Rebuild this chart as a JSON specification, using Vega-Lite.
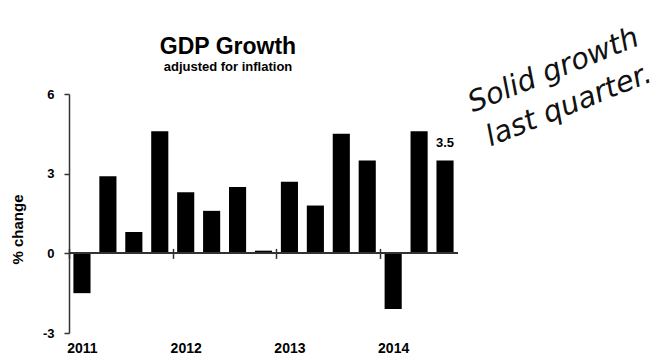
{
  "$schema": "https://vega.github.io/schema/vega-lite/v6.json",
  "width": 389,
  "height": 239,
  "autosize": {"type": "none"},
  "padding": {"left": 69, "top": 94, "right": 203, "bottom": 29},
  "background": "white",
  "config": {"view": {"stroke": null}, "font": "Liberation Sans"},
  "title": {
    "text": "GDP Growth",
    "subtitle": "adjusted for inflation",
    "frame": "group",
    "anchor": "middle",
    "dx": -35.5,
    "offset": -51,
    "fontSize": 23,
    "fontWeight": "bold",
    "color": "#000",
    "subtitleFontSize": 13,
    "subtitleFontWeight": "bold",
    "subtitleColor": "#000",
    "subtitlePadding": 2
  },
  "datasets": {
    "gdp": [
      {"q": "2011 Q1", "pct": -1.5},
      {"q": "2011 Q2", "pct": 2.9},
      {"q": "2011 Q3", "pct": 0.8},
      {"q": "2011 Q4", "pct": 4.6},
      {"q": "2012 Q1", "pct": 2.3},
      {"q": "2012 Q2", "pct": 1.6},
      {"q": "2012 Q3", "pct": 2.5},
      {"q": "2012 Q4", "pct": 0.1},
      {"q": "2013 Q1", "pct": 2.7},
      {"q": "2013 Q2", "pct": 1.8},
      {"q": "2013 Q3", "pct": 4.5},
      {"q": "2013 Q4", "pct": 3.5},
      {"q": "2014 Q1", "pct": -2.1},
      {"q": "2014 Q2", "pct": 4.6},
      {"q": "2014 Q3", "pct": 3.5, "label": "3.5"}
    ],
    "note": [
      {"ax": 125.4, "ay": 6.58, "text": "Solid growth"},
      {"ax": 129.3, "ay": 5.26, "text": "last quarter."}
    ]
  },
  "layer": [
    {
      "data": {"name": "gdp"},
      "layer": [
        {
          "mark": {"type": "bar", "color": "#000"},
          "encoding": {
            "x": {
              "field": "q",
              "type": "ordinal",
              "sort": null,
              "scale": {"paddingInner": 0.34, "paddingOuter": 0.17},
              "axis": {
                "values": ["2011 Q1", "2012 Q1", "2013 Q1", "2014 Q1"],
                "labelExpr": "substring(datum.label, 0, 4)",
                "title": null,
                "orient": "bottom",
                "domain": false,
                "offset": -84.6,
                "tickSize": 10,
                "tickColor": "#333",
                "tickWidth": 1.5,
                "tickOffset": -12.97,
                "labelOffset": 12.97,
                "labelPadding": 83,
                "labelAngle": 0,
                "labelFontSize": 14,
                "labelFontWeight": "bold",
                "labelColor": "#000"
              }
            },
            "y": {
              "field": "pct",
              "type": "quantitative",
              "scale": {"domain": [-3, 6], "nice": false},
              "axis": {
                "values": [-3, 0, 3, 6],
                "labelExpr": "'' + datum.value",
                "grid": false,
                "title": "% change",
                "titleFontSize": 15,
                "titleFontWeight": "bold",
                "titleColor": "#000",
                "titleX": -52,
                "titleY": 135,
                "titleBaseline": "middle",
                "labelFontSize": 13,
                "labelFontWeight": "bold",
                "labelColor": "#000",
                "labelPadding": 10,
                "domainColor": "#333",
                "domainWidth": 1.5,
                "tickColor": "#333",
                "tickWidth": 1.5,
                "tickSize": 5
              }
            }
          }
        },
        {
          "mark": {"type": "rule", "color": "#333", "strokeWidth": 1.5},
          "encoding": {"y": {"datum": 0}}
        },
        {
          "transform": [{"filter": "datum.label != null"}],
          "mark": {"type": "text", "dy": -13.6, "baseline": "alphabetic", "fontSize": 13, "fontWeight": "bold", "color": "#000"},
          "encoding": {
            "x": {"field": "q", "type": "ordinal", "sort": null},
            "y": {"field": "pct", "type": "quantitative"},
            "text": {"field": "label"}
          }
        }
      ]
    },
    {
      "data": {"name": "note"},
      "mark": {"type": "text", "angle": -22, "align": "center", "baseline": "alphabetic", "font": "DejaVu Sans", "fontStyle": "italic", "fontSize": 29, "color": "#111"},
      "encoding": {
        "x": {"field": "ax", "type": "quantitative", "scale": {"domain": [0, 100], "nice": false, "zero": false}, "axis": null},
        "y": {"field": "ay", "type": "quantitative", "scale": {"domain": [-3, 6], "nice": false}, "axis": null},
        "text": {"field": "text"}
      }
    }
  ],
  "resolve": {"scale": {"x": "independent", "y": "independent"}}
}
